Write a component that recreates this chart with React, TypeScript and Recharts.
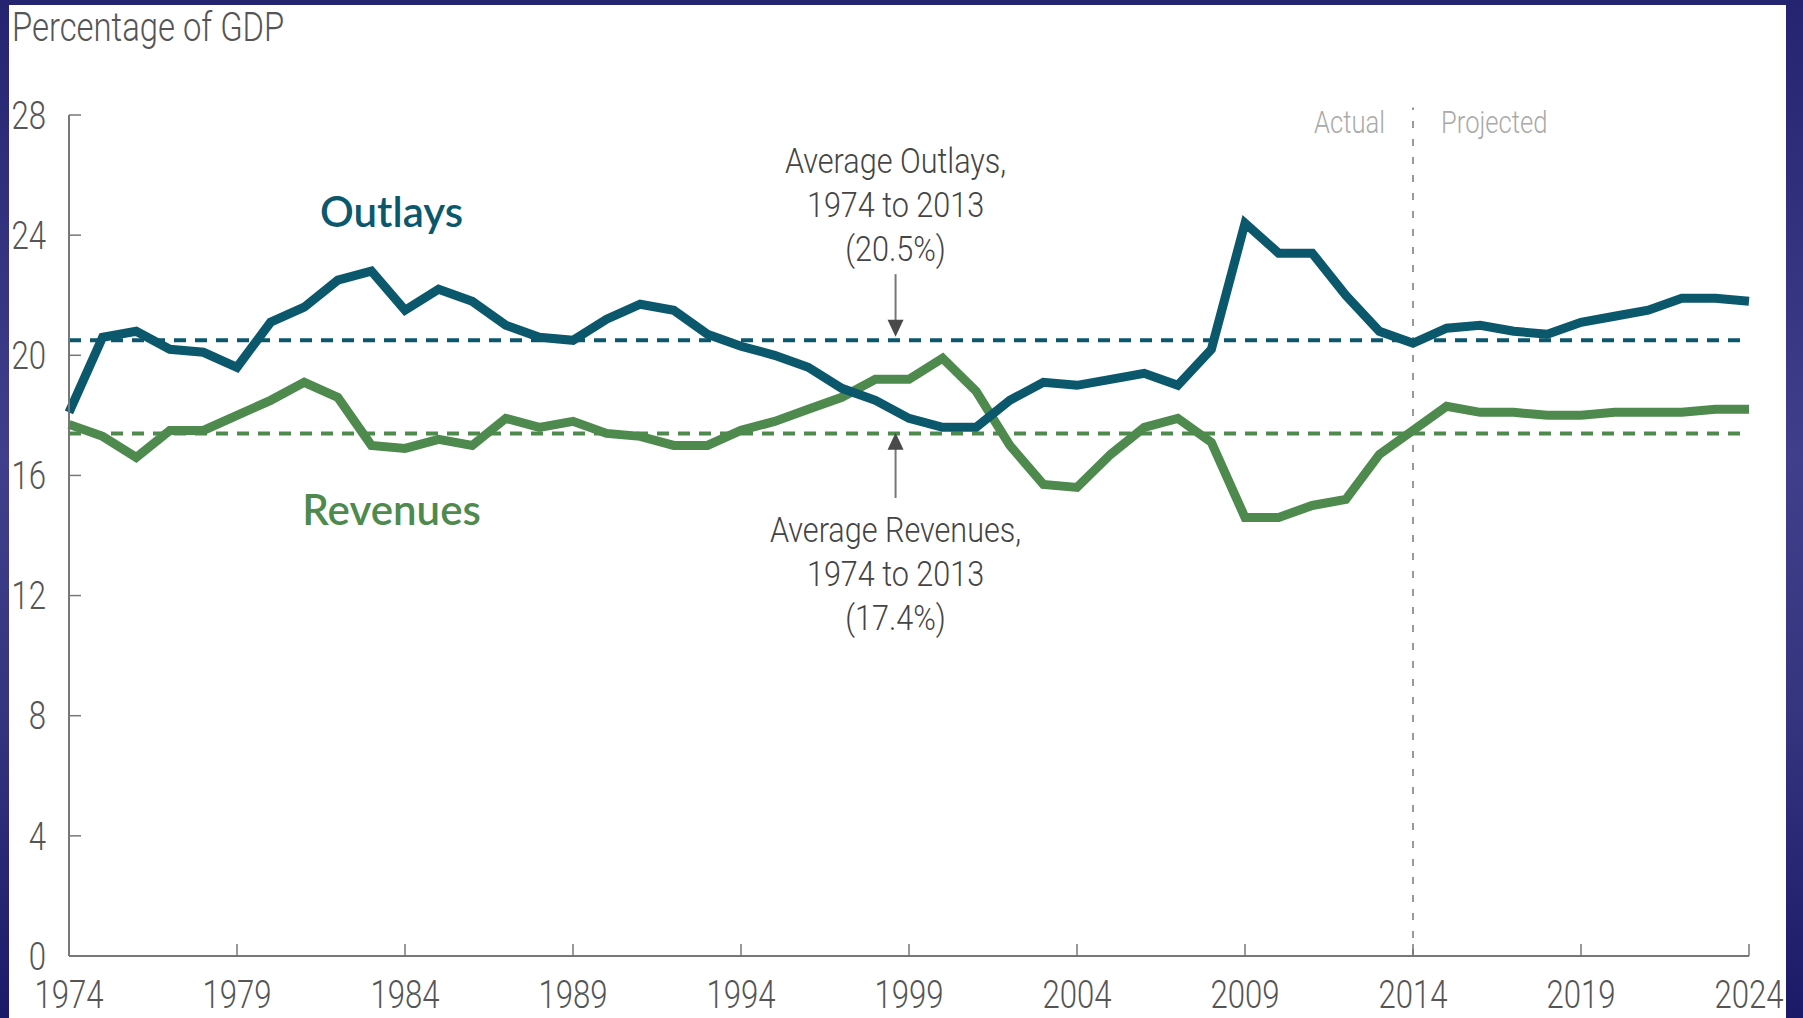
import React from 'react';
import {
  LineChart,
  Line,
  XAxis,
  YAxis,
  ReferenceLine,
  ReferenceDot,
} from 'recharts';

const years = [
  1974, 1975, 1976, 1977, 1978, 1979, 1980, 1981, 1982, 1983, 1984, 1985, 1986,
  1987, 1988, 1989, 1990, 1991, 1992, 1993, 1994, 1995, 1996, 1997, 1998, 1999,
  2000, 2001, 2002, 2003, 2004, 2005, 2006, 2007, 2008, 2009, 2010, 2011, 2012,
  2013, 2014, 2015, 2016, 2017, 2018, 2019, 2020, 2021, 2022, 2023, 2024,
];

const outlays = [
  18.1, 20.6, 20.8, 20.2, 20.1, 19.6, 21.1, 21.6, 22.5, 22.8, 21.5, 22.2, 21.8,
  21.0, 20.6, 20.5, 21.2, 21.7, 21.5, 20.7, 20.3, 20.0, 19.6, 18.9, 18.5, 17.9,
  17.6, 17.6, 18.5, 19.1, 19.0, 19.2, 19.4, 19.0, 20.2, 24.4, 23.4, 23.4, 22.0,
  20.8, 20.4, 20.9, 21.0, 20.8, 20.7, 21.1, 21.3, 21.5, 21.9, 21.9, 21.8,
];

const revenues = [
  17.7, 17.3, 16.6, 17.5, 17.5, 18.0, 18.5, 19.1, 18.6, 17.0, 16.9, 17.2, 17.0,
  17.9, 17.6, 17.8, 17.4, 17.3, 17.0, 17.0, 17.5, 17.8, 18.2, 18.6, 19.2, 19.2,
  19.9, 18.8, 17.0, 15.7, 15.6, 16.7, 17.6, 17.9, 17.1, 14.6, 14.6, 15.0, 15.2,
  16.7, 17.5, 18.3, 18.1, 18.1, 18.0, 18.0, 18.1, 18.1, 18.1, 18.2, 18.2,
];

const xTicks = [1974, 1979, 1984, 1989, 1994, 1999, 2004, 2009, 2014, 2019, 2024];
const yTicks = [0, 4, 8, 12, 16, 20, 24, 28];

const avgOutlays = 20.5;
const avgRevenues = 17.4;
const splitYear = 2014;

const outlayNote = ['Average Outlays,', '1974 to 2013', '(20.5%)'];
const revenueNote = ['Average Revenues,', '1974 to 2013', '(17.4%)'];

const data = years.map((year, i) => ({
  year,
  outlays: outlays[i],
  revenues: revenues[i],
}));

const TEAL = '#0b586d';
const GREEN = '#4e8a4e';
const COND = 'Roboto, "Noto Sans", sans-serif';

// condensed look: Roboto light squeezed horizontally
const CondText = ({ x, y, anchor = 'middle', size, fill, dy = 0, squeeze = 0.8, children }) => (
  <text
    transform={`translate(${x},${y}) scale(${squeeze},1)`}
    textAnchor={anchor}
    dy={dy}
    fontSize={size}
    fontWeight={300}
    fontFamily={COND}
    fill={fill}
  >
    {children}
  </text>
);

const XTick = ({ x, y, payload }) => (
  <CondText x={x} y={y} size={38} fill="#555" dy="0.7em" squeeze={0.82}>
    {payload.value}
  </CondText>
);

const YTick = ({ x, y, payload }) => (
  <CondText x={x} y={y} anchor="end" size={38} fill="#555" dy="0.36em" squeeze={0.82}>
    {payload.value}
  </CondText>
);

const NoteText = ({ cx, cy, lines }) => (
  <g>
    {lines.map((l, i) => (
      <CondText key={i} x={cx} y={cy + i * 44} size={36} fill="#444" squeeze={0.85}>
        {l}
      </CondText>
    ))}
  </g>
);

const SeriesLabel = ({ cx, cy, text, color }) => (
  <text
    x={cx}
    y={cy}
    textAnchor="middle"
    fill={color}
    fontSize={42}
    fontWeight={600}
    fontFamily="Lato, 'Noto Sans', sans-serif"
  >
    {text}
  </text>
);

const ArrowHead = ({ cx, cy, dir }) => {
  // dir 1: pointing down, -1: pointing up
  const h = 17 * dir;
  return (
    <polygon
      points={`${cx},${cy} ${cx - 8},${cy - h} ${cx + 8},${cy - h}`}
      fill="#4a4a4a"
    />
  );
};

const PeriodLabels = ({ cx, cy }) => (
  <g>
    <CondText x={cx - 28} y={cy} anchor="end" size={32} fill="#a9a9a9">
      Actual
    </CondText>
    <CondText x={cx + 28} y={cy} anchor="start" size={32} fill="#a9a9a9">
      Projected
    </CondText>
  </g>
);

const App = () => {
  return (
    <div
      style={{
        position: 'absolute',
        left: 0,
        top: 0,
        width: 1803,
        height: 1018,
        overflow: 'hidden',
        background:
          'linear-gradient(to bottom, #242470 0%, #3f3f8b 45%, #34347f 70%, #1a1a68 100%)',
      }}
    >
      <div
        style={{
          position: 'absolute',
          left: 9,
          top: 5,
          width: 1777,
          height: 1013,
          background: '#ffffff',
        }}
      />
      <div
        style={{
          position: 'absolute',
          left: 12,
          top: 5,
          fontFamily: COND,
          fontWeight: 300,
          fontSize: 40,
          color: '#555',
          lineHeight: '46px',
          whiteSpace: 'nowrap',
          transform: 'scaleX(0.82)',
          transformOrigin: 'left top',
        }}
      >
        Percentage of GDP
      </div>
      <div style={{ position: 'absolute', left: 0, top: 0 }}>
        <LineChart
          width={1803}
          height={1018}
          data={data}
          margin={{ top: 115, right: 54, left: 9, bottom: 0 }}
        >
          <XAxis
            dataKey="year"
            type="number"
            domain={[1974, 2024]}
            ticks={xTicks}
            interval={0}
            height={62}
            tickSize={-12}
            tickMargin={37}
            axisLine={{ stroke: '#777', strokeWidth: 2 }}
            tickLine={{ stroke: '#777', strokeWidth: 1.5 }}
            tick={(p) => <XTick {...p} />}
          />
          <YAxis
            type="number"
            domain={[0, 28]}
            ticks={yTicks}
            interval={0}
            width={60}
            tickSize={-12}
            tickMargin={35}
            axisLine={{ stroke: '#777', strokeWidth: 2 }}
            tickLine={{ stroke: '#777', strokeWidth: 1.5 }}
            tick={(p) => <YTick {...p} />}
          />
          <ReferenceLine
            segment={[
              { x: splitYear, y: 0 },
              { x: splitYear, y: 28.25 },
            ]}
            ifOverflow="visible"
            stroke="#999"
            strokeWidth={2}
            strokeDasharray="7 11"
          />
          <ReferenceLine
            y={avgOutlays}
            stroke={TEAL}
            strokeWidth={4}
            strokeDasharray="12 9"
          />
          <ReferenceLine
            y={avgRevenues}
            stroke={GREEN}
            strokeWidth={4}
            strokeDasharray="12 9"
          />
          <Line
            type="linear"
            dataKey="revenues"
            stroke={GREEN}
            strokeWidth={9}
            dot={false}
            isAnimationActive={false}
          />
          <Line
            type="linear"
            dataKey="outlays"
            stroke={TEAL}
            strokeWidth={9}
            dot={false}
            isAnimationActive={false}
          />
          <ReferenceLine
            segment={[
              { x: 1998.6, y: 22.7 },
              { x: 1998.6, y: 21.0 },
            ]}
            stroke="#777"
            strokeWidth={2}
          />
          <ReferenceDot
            x={1998.6}
            y={20.62}
            shape={(p) => <ArrowHead cx={p.cx} cy={p.cy} dir={1} />}
          />
          <ReferenceLine
            segment={[
              { x: 1998.6, y: 15.25 },
              { x: 1998.6, y: 16.9 },
            ]}
            stroke="#777"
            strokeWidth={2}
          />
          <ReferenceDot
            x={1998.6}
            y={17.42}
            shape={(p) => <ArrowHead cx={p.cx} cy={p.cy} dir={-1} />}
          />
          <ReferenceDot
            x={1998.6}
            y={26.07}
            shape={(p) => <NoteText cx={p.cx} cy={p.cy} lines={outlayNote} />}
          />
          <ReferenceDot
            x={1998.6}
            y={13.78}
            shape={(p) => <NoteText cx={p.cx} cy={p.cy} lines={revenueNote} />}
          />
          <ReferenceDot
            x={1983.6}
            y={24.27}
            shape={(p) => (
              <SeriesLabel cx={p.cx} cy={p.cy} text="Outlays" color={TEAL} />
            )}
          />
          <ReferenceDot
            x={1983.6}
            y={14.35}
            shape={(p) => (
              <SeriesLabel cx={p.cx} cy={p.cy} text="Revenues" color={GREEN} />
            )}
          />
          <ReferenceDot
            x={splitYear}
            y={27.4}
            shape={(p) => <PeriodLabels cx={p.cx} cy={p.cy} />}
          />
        </LineChart>
      </div>
    </div>
  );
};

export default App;
